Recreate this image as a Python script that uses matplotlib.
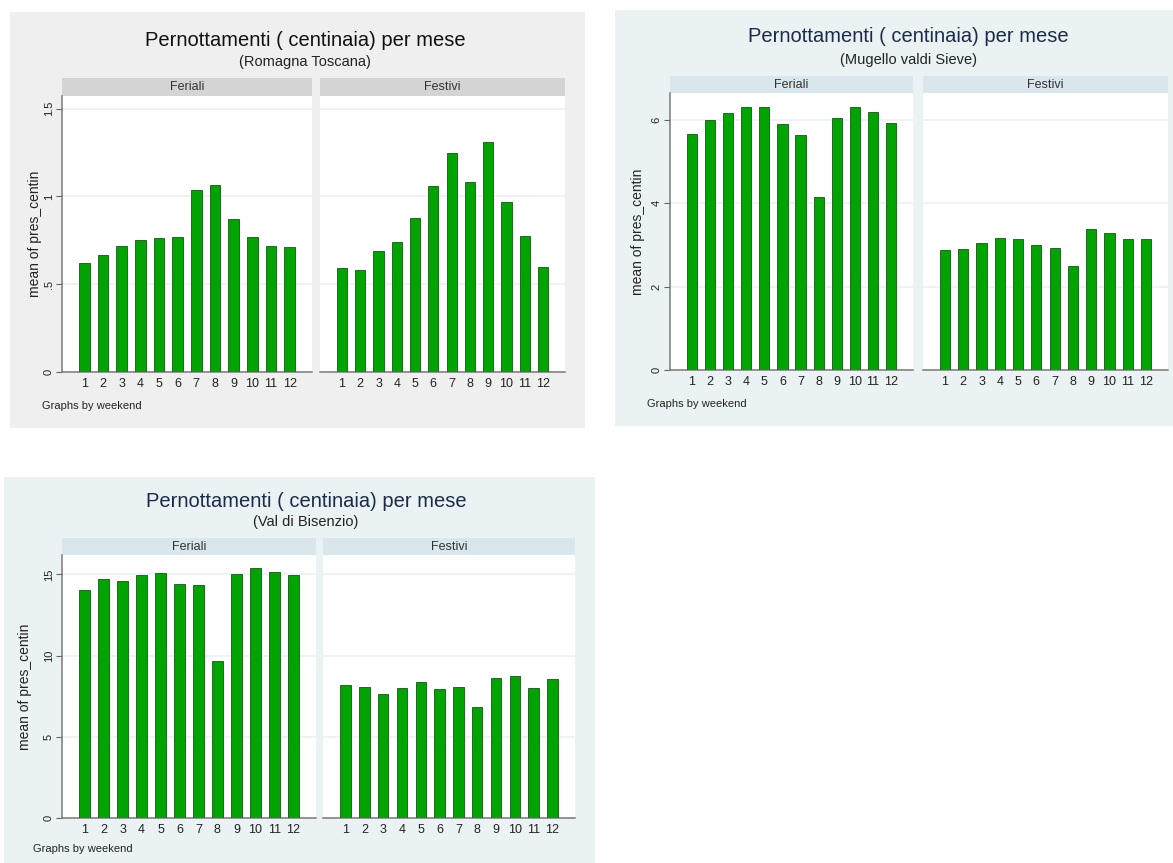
import matplotlib.pyplot as plt
from matplotlib.patches import Rectangle

plt.rcParams['font.family'] = ['Liberation Sans', 'DejaVu Sans']

W, H = 1173, 863

months = list(range(1, 13))
panel_names = ['Feriali', 'Festivi']

# mean of pres_centin per month, weekdays / holidays
romagna_feriali = [0.62, 0.666, 0.715, 0.75, 0.763, 0.768, 1.034, 1.065, 0.873, 0.767, 0.715, 0.713]
romagna_festivi = [0.592, 0.581, 0.691, 0.74, 0.875, 1.057, 1.247, 1.08, 1.309, 0.966, 0.774, 0.60]

mugello_feriali = [5.66, 5.99, 6.18, 6.32, 6.32, 5.90, 5.63, 4.16, 6.04, 6.32, 6.20, 5.94]
mugello_festivi = [2.88, 2.90, 3.04, 3.18, 3.14, 3.00, 2.93, 2.50, 3.38, 3.29, 3.14, 3.14]

bisenzio_feriali = [14.07, 14.73, 14.59, 14.98, 15.08, 14.42, 14.38, 9.68, 15.02, 15.43, 15.18, 14.94]
bisenzio_festivi = [8.18, 8.07, 7.64, 7.99, 8.40, 7.93, 8.07, 6.84, 8.63, 8.73, 7.99, 8.57]

romagna_yticks = [0, 0.5, 1, 1.5]
romagna_ylabels = ['0', '.5', '1', '1.5']
mugello_yticks = [0, 2, 4, 6]
mugello_ylabels = ['0', '2', '4', '6']
bisenzio_yticks = [0, 5, 10, 15]
bisenzio_ylabels = ['0', '5', '10', '15']

title = 'Pernottamenti ( centinaia) per mese'
note = 'Graphs by weekend'

gray_scheme = dict(bg='#efefef', strip='#d4d4d4', grid='#efefef', title='#111111')
blue_scheme = dict(bg='#eaf2f3', strip='#d9e6eb', grid='#eaf2f3', title='#1e2a4a')

# pixel layout of each graph: background box, strips, plot areas, text anchors
layouts = [
    dict(sub='(Romagna Toscana)', data=(romagna_feriali, romagna_festivi),
         yticks=romagna_yticks, ylabels=romagna_ylabels, ytop=1.572, scheme=gray_scheme,
         bg=(10, 12, 585, 428), strip_top=78, plot_top=96, zero=372,
         cols=[(62, 312), (320, 565)], title_xy=(305, 40), sub_y=62,
         ylab_x=35, note_xy=(42, 406)),
    dict(sub='(Mugello valdi Sieve)', data=(mugello_feriali, mugello_festivi),
         yticks=mugello_yticks, ylabels=mugello_ylabels, ytop=6.65, scheme=blue_scheme,
         bg=(615, 10, 1173, 426), strip_top=76, plot_top=93, zero=370,
         cols=[(670, 913), (923, 1168)], title_xy=(908, 37), sub_y=60,
         ylab_x=638, note_xy=(647, 404)),
    dict(sub='(Val di Bisenzio)', data=(bisenzio_feriali, bisenzio_festivi),
         yticks=bisenzio_yticks, ylabels=bisenzio_ylabels, ytop=16.2, scheme=blue_scheme,
         bg=(4, 477, 595, 863), strip_top=538, plot_top=555, zero=818,
         cols=[(62, 316), (323, 575)], title_xy=(306, 501), sub_y=522,
         ylab_x=25, note_xy=(33, 849)),
]


def box(l, t, r, b):
    return [l / W, 1 - b / H, (r - l) / W, (b - t) / H]


fig = plt.figure(figsize=(W / 100, H / 100), dpi=100)
fig.patch.set_facecolor('white')

for lay in layouts:
    sc = lay['scheme']
    l, t, r, b = lay['bg']
    fig.add_artist(Rectangle((l / W, 1 - b / H), (r - l) / W, (b - t) / H,
                             transform=fig.transFigure, facecolor=sc['bg'],
                             edgecolor='none', zorder=-5))

    tx, ty = lay['title_xy']
    fig.text(tx / W, 1 - ty / H, title, ha='center', va='center',
             fontsize=14.5, color=sc['title'])
    fig.text(tx / W, 1 - lay['sub_y'] / H, lay['sub'], ha='center', va='center',
             fontsize=10.5, color='#222222')

    for i, (cl, cr) in enumerate(lay['cols']):
        # strip with the panel name
        sax = fig.add_axes(box(cl, lay['strip_top'], cr, lay['plot_top']))
        sax.set_facecolor(sc['strip'])
        sax.set_xticks([])
        sax.set_yticks([])
        for s in sax.spines.values():
            s.set_visible(False)
        sax.text(0.5, 0.5, panel_names[i], ha='center', va='center',
                 fontsize=9, color='#333333', transform=sax.transAxes)

        ax = fig.add_axes(box(cl, lay['plot_top'], cr, lay['zero']))
        ax.set_facecolor('white')
        ax.bar(months, lay['data'][i], width=0.56, color='#00a400',
               edgecolor='#1f6a1f', linewidth=0.7, zorder=3)
        ax.set_xlim(-0.2, 13.2)
        ax.set_ylim(0, lay['ytop'])
        ax.set_axisbelow(True)
        ax.yaxis.grid(True, color=sc['grid'], linewidth=1.2)
        ax.set_yticks(lay['yticks'])
        ax.set_xticks(months)
        ax.tick_params(axis='x', length=0, pad=4, labelsize=9, labelcolor='#222222')
        for s in ('top', 'right'):
            ax.spines[s].set_visible(False)
        ax.spines['bottom'].set_color('#7a7a7a')
        ax.spines['bottom'].set_linewidth(1.1)
        if i == 0:
            ax.spines['left'].set_color('#7a7a7a')
            ax.spines['left'].set_linewidth(1.1)
            ax.set_yticklabels(lay['ylabels'], rotation=90, va='center')
            ax.tick_params(axis='y', length=4, width=0.8, color='#666666',
                           pad=2, labelsize=8, labelcolor='#222222')
        else:
            ax.spines['left'].set_visible(False)
            ax.tick_params(axis='y', left=False, labelleft=False)

    ymid = (lay['plot_top'] + lay['zero']) / 2
    fig.text(lay['ylab_x'] / W, 1 - ymid / H, 'mean of pres_centin', rotation=90,
             ha='center', va='center', fontsize=10, color='#222222')
    nx, ny = lay['note_xy']
    fig.text(nx / W, 1 - ny / H, note, ha='left', va='center',
             fontsize=8, color='#222222')

fig.savefig('out.png', dpi=100, facecolor=fig.get_facecolor())
